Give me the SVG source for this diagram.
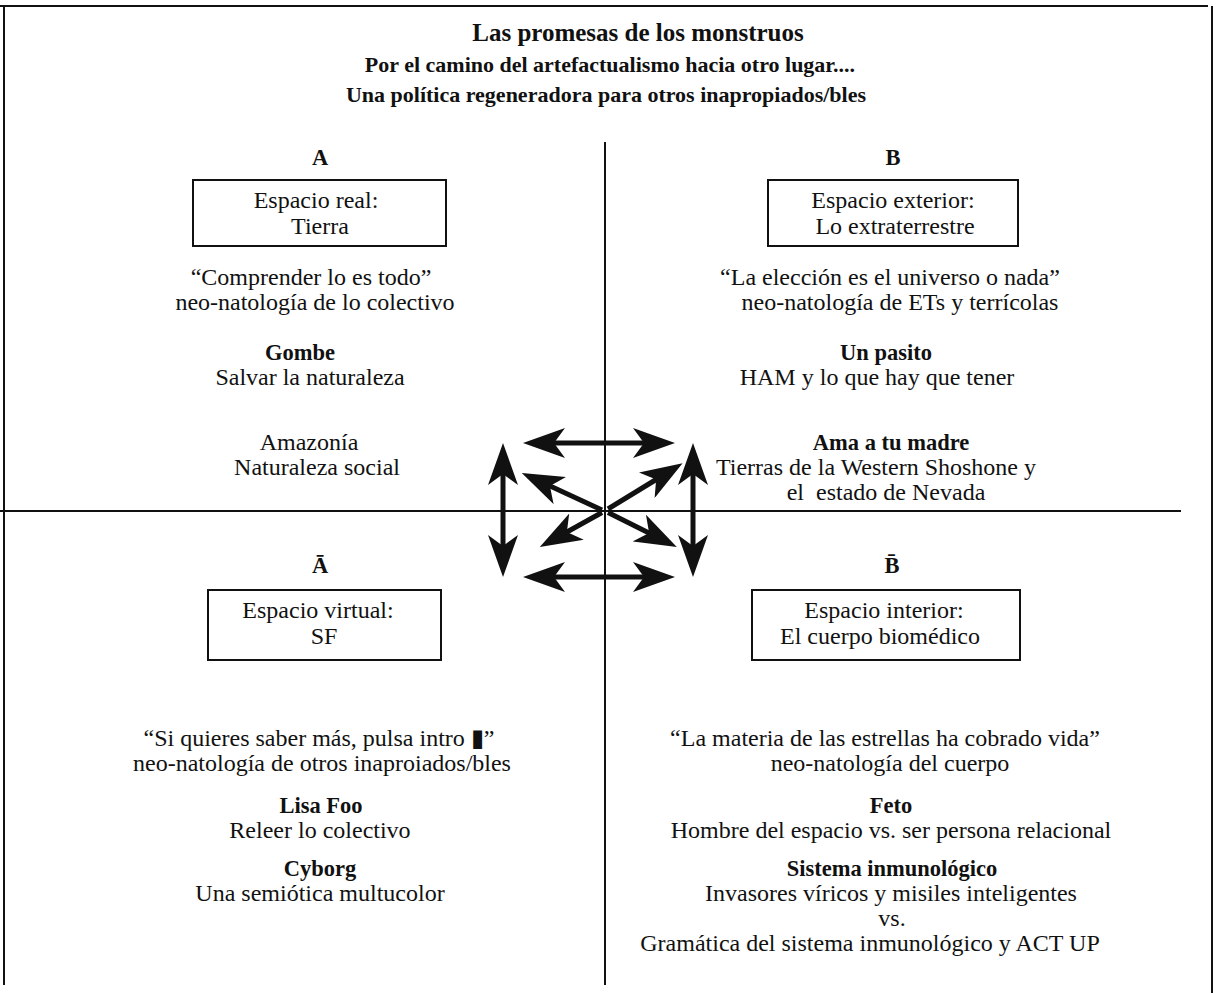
<svg xmlns="http://www.w3.org/2000/svg" width="1220" height="993" viewBox="0 0 1220 993">
<style>
text{font-family:"Liberation Serif","Times New Roman",serif;fill:#111;text-anchor:middle}
.t{font-size:25px;font-weight:bold}
.s{font-size:22px;font-weight:bold}
.b{font-size:22.5px;font-weight:bold}
.n{font-size:24px}
.box{fill:none;stroke:#111;stroke-width:2}
.rule{stroke:#111;stroke-width:2;fill:none}
.arr{stroke:#111;stroke-width:5;fill:none}
</style>
<defs>
<marker id="ah" viewBox="0 0 42 30" refX="12" refY="15" markerWidth="42" markerHeight="30" markerUnits="userSpaceOnUse" orient="auto-start-reverse">
<path d="M0,0 L42,15 L0,30 L11,15 z" fill="#111"/>
</marker>
</defs>
<rect width="1220" height="993" fill="#fff"/>
<g id="frame">
<path class="rule" d="M0,6 H1208 M4,6 V985 M1212,6 V993"/>
<path class="rule" d="M605,142 V985 M0,511 H1181"/>
</g>
<g id="title">
<text class="t" x="638" y="41">Las promesas de los monstruos</text>
<text class="s" x="610" y="72">Por el camino del artefactualismo hacia otro lugar....</text>
<text class="s" x="606" y="102">Una política regeneradora para otros inapropiados/bles</text>
</g>
<g id="nodeA">
<text class="b" x="320" y="165">A</text>
<rect class="box" x="193" y="180" width="253" height="66"/>
<text class="n" x="316" y="208">Espacio real:</text>
<text class="n" x="320" y="234">Tierra</text>
<text class="n" x="311" y="285">“Comprender lo es todo”</text>
<text class="n" x="315" y="310">neo-natología de lo colectivo</text>
<text class="b" x="300" y="360">Gombe</text>
<text class="n" x="310" y="385">Salvar la naturaleza</text>
<text class="n" x="309" y="450">Amazonía</text>
<text class="n" x="317" y="475">Naturaleza social</text>
</g>
<g id="nodeB">
<text class="b" x="893" y="165">B</text>
<rect class="box" x="768" y="180" width="250" height="66"/>
<text class="n" x="893" y="208">Espacio exterior:</text>
<text class="n" x="895" y="234">Lo extraterrestre</text>
<text class="n" x="890" y="285">“La elección es el universo o nada”</text>
<text class="n" x="900" y="310">neo-natología de ETs y terrícolas</text>
<text class="b" x="886" y="360">Un pasito</text>
<text class="n" x="877" y="385">HAM y lo que hay que tener</text>
<text class="b" x="891" y="450">Ama a tu madre</text>
<text class="n" x="876" y="475">Tierras de la Western Shoshone y</text>
<text class="n" x="886" y="500" xml:space="preserve">el  estado de Nevada</text>
</g>
<g id="nodeAbar">
<text class="b" x="320" y="573">Ā</text>
<rect class="box" x="208" y="590" width="233" height="70"/>
<text class="n" x="318" y="618">Espacio virtual:</text>
<text class="n" x="324" y="644">SF</text>
<text class="n" x="319" y="746">“Si quieres saber más, pulsa intro ▮”</text>
<text class="n" x="322" y="771">neo-natología de otros inaproiados/bles</text>
<text class="b" x="321" y="813">Lisa Foo</text>
<text class="n" x="320" y="838">Releer lo colectivo</text>
<text class="b" x="320" y="876">Cyborg</text>
<text class="n" x="320" y="901">Una semiótica multucolor</text>
</g>
<g id="nodeBbar">
<text class="b" x="892" y="573">B̄</text>
<rect class="box" x="752" y="590" width="268" height="70"/>
<text class="n" x="884" y="618">Espacio interior:</text>
<text class="n" x="880" y="644">El cuerpo biomédico</text>
<text class="n" x="885" y="746">“La materia de las estrellas ha cobrado vida”</text>
<text class="n" x="890" y="771">neo-natología del cuerpo</text>
<text class="b" x="891" y="813">Feto</text>
<text class="n" x="891" y="838">Hombre del espacio vs. ser persona relacional</text>
<text class="b" x="892" y="876">Sistema inmunológico</text>
<text class="n" x="891" y="901">Invasores víricos y misiles inteligentes</text>
<text class="n" x="892" y="926">vs.</text>
<text class="n" x="870" y="951">Gramática del sistema inmunológico y ACT UP</text>
</g>
<g id="connectors">
<line class="arr" x1="553" y1="443" x2="645" y2="443" marker-start="url(#ah)" marker-end="url(#ah)"/>
<line class="arr" x1="553" y1="577" x2="645" y2="577" marker-start="url(#ah)" marker-end="url(#ah)"/>
<line class="arr" x1="503" y1="473" x2="503" y2="547" marker-start="url(#ah)" marker-end="url(#ah)"/>
<line class="arr" x1="693" y1="473" x2="693" y2="547" marker-start="url(#ah)" marker-end="url(#ah)"/>
<line class="arr" x1="602" y1="510" x2="549" y2="485.5" marker-end="url(#ah)"/>
<line class="arr" x1="608" y1="509" x2="657" y2="479" marker-end="url(#ah)"/>
<line class="arr" x1="602" y1="512.5" x2="566" y2="532.5" marker-end="url(#ah)"/>
<line class="arr" x1="608" y1="512.5" x2="650" y2="533.5" marker-end="url(#ah)"/>
</g>
</svg>
